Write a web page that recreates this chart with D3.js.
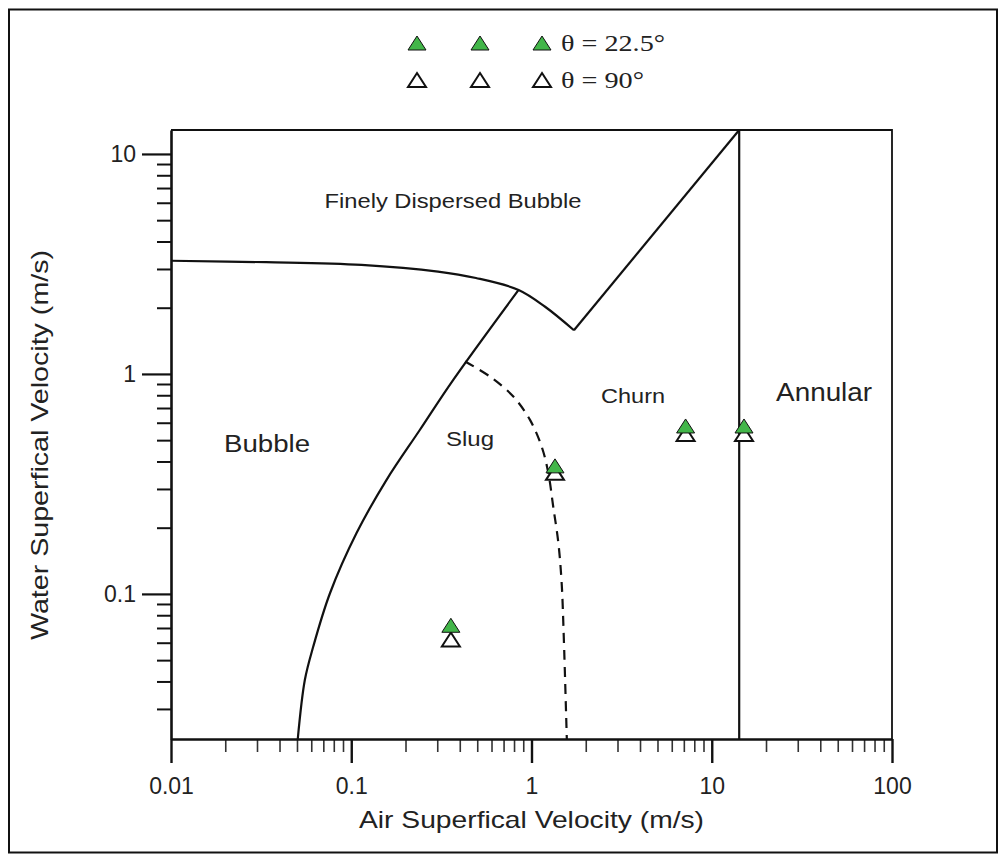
<!DOCTYPE html>
<html>
<head>
<meta charset="utf-8">
<script src="https://cdn.jsdelivr.net/npm/d3@7"></script>
<style>
  body { margin: 0; background: #fff; }
  text { font-family: "Liberation Sans", Arial, sans-serif; fill: #222; }
  .serif { font-family: "Liberation Serif", "Times New Roman", serif; }
</style>
</head>
<body>
<div id="chart"></div>
<script>
// measured points, air / water superficial velocity (m/s)
const airVel22 = [0.357, 1.35, 7.16, 15.1];
const waterVel22 = [0.072, 0.382, 0.58, 0.58];
const airVel90 = [0.357, 1.35, 7.16, 15.1];
const waterVel90 = [0.062, 0.355, 0.533, 0.533];

// flow regime boundaries [air, water]
const dispersedCurve = [[0.01, 3.27], [0.0337, 3.22], [0.114, 3.13], [0.303, 2.92], [0.492, 2.73], [0.848, 2.41], [1.19, 2.02], [1.72, 1.58]];
const churnLine = [[1.72, 1.58], [14.2, 12.85]];
const bubbleSlugCurve = [[0.0505, 0.0219], [0.0553, 0.0407], [0.0615, 0.0575], [0.0762, 0.1007], [0.107, 0.189], [0.157, 0.330], [0.240, 0.556], [0.368, 0.94], [0.848, 2.41]];
const slugChurnCurve = [[0.428, 1.14], [0.589, 0.972], [0.793, 0.789], [0.981, 0.618], [1.139, 0.467], [1.24, 0.354], [1.32, 0.249], [1.41, 0.170], [1.47, 0.112], [1.51, 0.064], [1.57, 0.0219]];
const annularX = 14.2;

const xMajor = [0.01, 0.1, 1, 10, 100];
const yMajor = [0.1, 1, 10];
const xMajorLabels = ["0.01", "0.1", "1", "10", "100"];
const yMajorLabels = ["0.1", "1", "10"];

const regionLabels = [
  { text: "Finely Dispersed Bubble", x: 0.367, y: 6.03, size: 21, len: 257 },
  { text: "Bubble", x: 0.0341, y: 0.471, size: 23, len: 86 },
  { text: "Slug", x: 0.456, y: 0.501, size: 21, len: 48 },
  { text: "Churn", x: 3.66, y: 0.778, size: 21, len: 64 },
  { text: "Annular", x: 42, y: 0.81, size: 25, len: 96 }
];

const legendRows = [
  { label: "θ = 22.5°", fill: "#42b649", sw: 1, len: 104 },
  { label: "θ = 90°", fill: "#fff", sw: 2, len: 83 }
];

const W = 1008, H = 863;
const margin = { top: 130, right: 116, bottom: 124, left: 171 },
  width = W - margin.left - margin.right,
  height = H - margin.top - margin.bottom;

const svg = d3.select("#chart").append("svg")
  .attr("width", W)
  .attr("height", H);

// outer frame
svg.append("rect")
  .attr("x", 9).attr("y", 9.5)
  .attr("width", 988).attr("height", 843)
  .attr("fill", "none")
  .attr("stroke", "#111")
  .attr("stroke-width", 2);

const g = svg.append("g")
  .attr("transform", "translate(" + margin.left + "," + margin.top + ")");

const x = d3.scaleLog().domain([0.01, 100]).range([0, width]);
const y = d3.scaleLog().domain([0.0219, 12.85]).range([height, 0]);

function minorTicks(lo, hi) {
  const t = [];
  for (let p = -3; p <= 2; p++) for (let k = 2; k <= 9; k++) {
    const v = k * Math.pow(10, p);
    if (v > lo && v < hi) t.push(v);
  }
  return t;
}

// top & right frame of plot
g.append("path")
  .attr("d", "M0,0H" + width + "V" + height)
  .attr("fill", "none")
  .attr("stroke", "#111")
  .attr("stroke-width", 1.8);

// x axis
g.append("g")
  .attr("transform", "translate(0," + height + ")")
  .call(d3.axisBottom(x).tickValues(minorTicks(0.01, 100)).tickSize(13).tickSizeOuter(0).tickFormat(""))
  .call(a => a.select(".domain").remove())
  .call(a => a.selectAll("line").attr("stroke", "#333").attr("stroke-width", 1.6));

g.append("g")
  .attr("transform", "translate(0," + height + ")")
  .call(d3.axisBottom(x).tickValues(xMajor).tickSize(24).tickSizeOuter(0)
    .tickPadding(15).tickFormat((d, i) => xMajorLabels[i]))
  .call(a => a.select(".domain").attr("stroke", "#111").attr("stroke-width", 2.6))
  .call(a => a.selectAll("line").attr("stroke", "#111").attr("stroke-width", 2.4))
  .call(a => a.selectAll("text").attr("font-size", 23).attr("fill", "#222")
    .style("font-family", "Liberation Sans, Arial, sans-serif"));

// y axis
g.append("g")
  .call(d3.axisLeft(y).tickValues(minorTicks(0.0219, 12.85)).tickSize(14).tickSizeOuter(0).tickFormat(""))
  .call(a => a.select(".domain").remove())
  .call(a => a.selectAll("line").attr("stroke", "#111").attr("stroke-width", 2));

g.append("g")
  .call(d3.axisLeft(y).tickValues(yMajor).tickSize(29).tickSizeOuter(0)
    .tickPadding(6).tickFormat((d, i) => yMajorLabels[i]))
  .call(a => a.select(".domain").attr("stroke", "#111").attr("stroke-width", 2.6))
  .call(a => a.selectAll("line").attr("stroke", "#111").attr("stroke-width", 2.2))
  .call(a => a.selectAll("text").attr("font-size", 23).attr("fill", "#222")
    .style("font-family", "Liberation Sans, Arial, sans-serif"));

// axis titles
svg.append("text")
  .attr("x", margin.left + width / 2)
  .attr("y", 828)
  .attr("text-anchor", "middle")
  .attr("font-size", 24)
  .attr("textLength", 345)
  .attr("lengthAdjust", "spacingAndGlyphs")
  .text("Air Superfical Velocity (m/s)");

svg.append("text")
  .attr("transform", "translate(48,445) rotate(-90)")
  .attr("text-anchor", "middle")
  .attr("font-size", 24)
  .attr("textLength", 390)
  .attr("lengthAdjust", "spacingAndGlyphs")
  .text("Water Superfical Velocity (m/s)");

// regime boundaries
const line = d3.line()
  .x(d => x(d[0]))
  .y(d => y(d[1]));

const boundaries = g.append("g")
  .attr("fill", "none")
  .attr("stroke", "#111")
  .attr("stroke-width", 2.2);

boundaries.append("path").attr("d", line.curve(d3.curveCatmullRom.alpha(0.5))(dispersedCurve));
boundaries.append("path").attr("d", line.curve(d3.curveLinear)(churnLine));
boundaries.append("path").attr("d", line.curve(d3.curveCatmullRom.alpha(0.5))(bubbleSlugCurve));
boundaries.append("path")
  .attr("d", line.curve(d3.curveCatmullRom.alpha(0.5))(slugChurnCurve))
  .attr("stroke-dasharray", "10,7");
boundaries.append("line")
  .attr("x1", x(annularX)).attr("x2", x(annularX))
  .attr("y1", 0).attr("y2", height);

// region labels
g.selectAll(".region")
  .data(regionLabels)
  .join("text")
  .attr("class", "region")
  .attr("x", d => x(d.x))
  .attr("y", d => y(d.y))
  .attr("text-anchor", "middle")
  .attr("dominant-baseline", "middle")
  .attr("font-size", d => d.size)
  .attr("textLength", d => d.len)
  .attr("lengthAdjust", "spacingAndGlyphs")
  .text(d => d.text);

// triangle marker
const tw = 18, th = 14;
const tri = "M0," + (-th / 2) + "L" + (tw / 2) + "," + (th / 2) + "L" + (-tw / 2) + "," + (th / 2) + "Z";

g.selectAll(".p90")
  .data(airVel90.map((a, i) => [a, waterVel90[i]]))
  .join("path")
  .attr("class", "p90")
  .attr("d", tri)
  .attr("transform", d => "translate(" + x(d[0]) + "," + y(d[1]) + ")")
  .attr("fill", "#fff")
  .attr("stroke", "#111")
  .attr("stroke-width", 2);

g.selectAll(".p22")
  .data(airVel22.map((a, i) => [a, waterVel22[i]]))
  .join("path")
  .attr("class", "p22")
  .attr("d", tri)
  .attr("transform", d => "translate(" + x(d[0]) + "," + y(d[1]) + ")")
  .attr("fill", "#42b649")
  .attr("stroke", "#111")
  .attr("stroke-width", 1);

// legend
const legend = svg.append("g").attr("transform", "translate(417,43)");
legendRows.forEach((r, j) => {
  const row = legend.append("g").attr("transform", "translate(0," + j * 37 + ")");
  [0, 63, 125].forEach(dx => {
    row.append("path")
      .attr("d", tri)
      .attr("transform", "translate(" + dx + ",0)")
      .attr("fill", r.fill)
      .attr("stroke", "#111")
      .attr("stroke-width", r.sw);
  });
  row.append("text")
    .attr("class", "serif")
    .attr("x", 144)
    .attr("y", 2)
    .attr("dominant-baseline", "middle")
    .attr("font-size", 24)
    .attr("textLength", r.len)
    .attr("lengthAdjust", "spacingAndGlyphs")
    .text(r.label);
});
</script>
</body>
</html>
